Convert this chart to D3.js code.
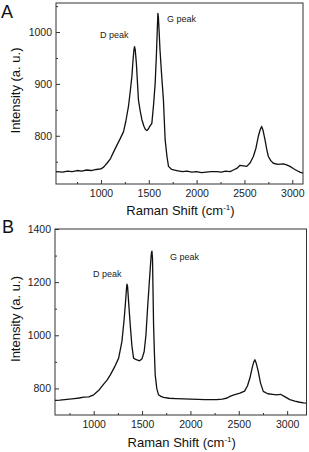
<!DOCTYPE html>
<html>
<head>
<meta charset="utf-8">
<script src="https://cdn.jsdelivr.net/npm/d3@7"></script>
<style>
  html, body { margin: 0; padding: 0; background: #fff; }
  svg { display: block; font-family: "Liberation Sans", Arial, sans-serif; }
</style>
</head>
<body>
<svg id="chart" width="309" height="452"></svg>
<script>
// ---------- Data ----------
const shiftA = [
  530, 600, 650, 700, 750, 800, 850, 900, 950, 1000,
  1030, 1063, 1100, 1130, 1167, 1200, 1236, 1260, 1288, 1305,
  1323, 1335, 1345, 1351, 1358, 1370, 1392, 1410, 1428, 1450,
  1465, 1480, 1495, 1510, 1532, 1550, 1567, 1580, 1590, 1595,
  1600, 1607, 1617, 1635, 1653, 1671, 1690, 1706, 1740, 1793,
  1850, 1900, 1950, 2000, 2050, 2100, 2150, 2210, 2260, 2300,
  2350, 2384, 2420, 2454, 2490, 2524, 2560, 2593, 2620, 2645,
  2665, 2680, 2695, 2715, 2735, 2750, 2775, 2802, 2850, 2906,
  2940, 2976, 3010, 3046, 3080, 3110
];
const intensityA = [
  731, 730, 732, 731, 733, 732, 734, 733, 735, 736,
  740, 747, 756, 768, 782, 794, 808, 828, 857, 884,
  914, 945, 966, 972, 966, 940, 869, 848, 831, 818,
  812, 810, 813, 818, 824, 860, 902, 958, 1010, 1036,
  1030, 1005, 966, 915, 869, 792, 760, 741, 735, 733,
  731, 732, 730, 731, 729, 730, 731, 731, 730, 732,
  731, 734, 737, 743, 742, 741, 748, 760, 776, 799,
  812, 818, 810, 792, 772, 760, 752, 747, 745, 746,
  744, 741, 737, 733, 730, 728
];
const shiftB = [
  600, 650, 700, 750, 800, 850, 897, 950, 1000, 1050,
  1103, 1140, 1172, 1215, 1258, 1292, 1316, 1330, 1340, 1344,
  1350, 1362, 1378, 1395, 1412, 1440, 1474, 1500, 1522, 1540,
  1557, 1575, 1590, 1597, 1602, 1608, 1619, 1628, 1636, 1652,
  1670, 1695, 1722, 1780, 1850, 1928, 2000, 2080, 2150, 2210,
  2271, 2330, 2380, 2409, 2450, 2512, 2560, 2590, 2615, 2640,
  2655, 2667, 2680, 2701, 2725, 2753, 2800, 2850, 2890, 2930,
  2970, 3028, 3080, 3130, 3170, 3200
];
const intensityB = [
  755, 756, 758, 760, 762, 764, 767, 768, 776, 792,
  816, 832, 851, 880, 914, 977, 1065, 1130, 1180, 1192,
  1185, 1120, 1039, 960, 914, 908, 904, 912, 939, 1000,
  1102, 1200, 1280, 1310, 1317, 1290, 1039, 930, 851, 800,
  776, 770, 766, 763, 762, 761, 760, 759, 758, 758,
  758, 760, 764, 770, 776, 782, 790, 810, 839, 880,
  900, 908, 895, 864, 820, 789, 780, 778, 776, 778,
  770, 758, 752, 748, 746, 745
];
const xTicks = [1000, 1500, 2000, 2500, 3000];
const xMinorTicks = [750, 1250, 1750, 2250, 2750];
const yTicksA = [800, 900, 1000];
const yMinorTicksA = [750, 850, 950, 1050];
const yTicksB = [800, 1000, 1200, 1400];
const yMinorTicksB = [900, 1100, 1300];
const panelLabels = ["A", "B"];
const peakLabels = ["D peak", "G peak"];

// ---------- Drawing ----------
const svg = d3.select("#chart");
const fmt = d3.format("d");

const panels = [
  { letter: panelLabels[0], xs: shiftA, ys: intensityA,
    xDomain: [530, 3112], yDomain: [707, 1056],
    left: 56, right: 303, top: 3, bottom: 184,
    yTicks: yTicksA, yMinor: yMinorTicksA,
    letterPos: [1, 18], titleY: 215,
    dPeak: [100, 38], gPeak: [167, 22] },
  { letter: panelLabels[1], xs: shiftB, ys: intensityB,
    xDomain: [600, 3200], yDomain: [700, 1400],
    left: 55, right: 306.5, top: 229, bottom: 415,
    yTicks: yTicksB, yMinor: yMinorTicksB,
    letterPos: [2, 233], titleY: 446.5,
    dPeak: [93, 277], gPeak: [170, 260] }
];

panels.forEach(p => {
  const x = d3.scaleLinear().domain(p.xDomain).range([p.left, p.right]);
  const y = d3.scaleLinear().domain(p.yDomain).range([p.bottom, p.top]);
  const g = svg.append("g");

  // x axis (inward ticks)
  const xa = g.append("g").attr("transform", `translate(0,${p.bottom})`)
    .call(d3.axisBottom(x).tickValues(xTicks).tickFormat(fmt)
      .tickSizeInner(-4).tickSizeOuter(0).tickPadding(5.5));
  g.append("g").attr("transform", `translate(0,${p.bottom})`)
    .call(d3.axisBottom(x).tickValues(xMinorTicks).tickSizeInner(-2).tickSizeOuter(0).tickFormat(""))
    .select(".domain").remove();

  // y axis
  const ya = g.append("g").attr("transform", `translate(${p.left},0)`)
    .call(d3.axisLeft(y).tickValues(p.yTicks).tickFormat(fmt)
      .tickSizeInner(-4).tickSizeOuter(0).tickPadding(4));
  g.append("g").attr("transform", `translate(${p.left},0)`)
    .call(d3.axisLeft(y).tickValues(p.yMinor).tickSizeInner(-2).tickSizeOuter(0).tickFormat(""))
    .select(".domain").remove();

  [xa, ya].forEach(a => {
    a.select(".domain").remove();
    a.selectAll("text").attr("font-size", "10.5px").attr("fill", "#222")
      .attr("font-family", "Liberation Sans, Arial, sans-serif");
  });
  g.selectAll(".tick line").attr("stroke", "#333");

  // frame
  g.append("rect")
    .attr("x", p.left).attr("y", p.top)
    .attr("width", p.right - p.left).attr("height", p.bottom - p.top)
    .attr("fill", "none").attr("stroke", "#333").attr("stroke-width", 1);

  // spectrum
  const pts = p.xs.map((v, i) => [v, p.ys[i]]);
  g.append("path").datum(pts)
    .attr("fill", "none").attr("stroke", "#111").attr("stroke-width", 1.3)
    .attr("stroke-linejoin", "round")
    .attr("d", d3.line().x(d => x(d[0])).y(d => y(d[1])));

  // peak labels
  g.append("text").attr("x", p.dPeak[0]).attr("y", p.dPeak[1])
    .attr("font-size", "9px").attr("fill", "#222").text(peakLabels[0]);
  g.append("text").attr("x", p.gPeak[0]).attr("y", p.gPeak[1])
    .attr("font-size", "9px").attr("fill", "#222").text(peakLabels[1]);

  // panel letter
  g.append("text").attr("x", p.letterPos[0]).attr("y", p.letterPos[1])
    .attr("font-size", "18px").attr("fill", "#111").text(p.letter);

  // axis titles
  const xt = g.append("text").attr("x", (p.left + p.right) / 2 + 1).attr("y", p.titleY)
    .attr("text-anchor", "middle").attr("font-size", "13px").attr("fill", "#111");
  xt.append("tspan").text("Raman Shift (cm");
  xt.append("tspan").attr("font-size", "8px").attr("dy", "-5").text("-1");
  xt.append("tspan").attr("dy", "5").text(")");

  g.append("text")
    .attr("transform", `translate(20,${(p.top + p.bottom) / 2 - 3}) rotate(-90)`)
    .attr("text-anchor", "middle").attr("font-size", "13px").attr("fill", "#111")
    .text("Intensity (a. u.)");
});
</script>
</body>
</html>
